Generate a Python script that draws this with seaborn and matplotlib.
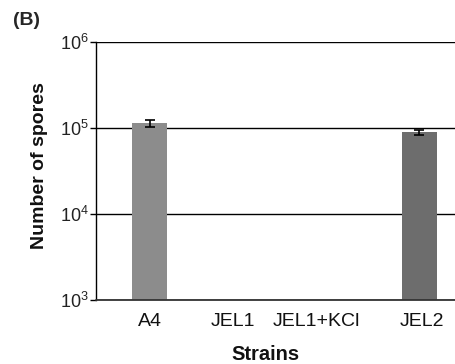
import numpy as np
import pandas as pd
import matplotlib
matplotlib.use("Agg")
import matplotlib.pyplot as plt
import matplotlib.transforms as mtransforms
import seaborn as sns

# values (JEL1 strains produced no spores)
strains = ["A4", "JEL1", "JEL1+KCl", "JEL2"]
spores = [1.13e5, np.nan, np.nan, 8.9e4]
spores_err = [1.1e4, np.nan, np.nan, 6.5e3]
bar_colors = ["#8c8c8c", "#8c8c8c", "#8c8c8c", "#6d6d6d"]

sns.set_style("white")
plt.rcParams["font.family"] = ["Liberation Sans", "DejaVu Sans"]
plt.rcParams["mathtext.fontset"] = "custom"
plt.rcParams["mathtext.rm"] = "Liberation Sans"

df = pd.DataFrame({"strain": strains, "spores": spores})

fig = plt.figure(figsize=(4.56, 3.64), dpi=100)
ax = fig.add_axes([0.2105, 0.1758, 0.7895, 0.7088])

sns.barplot(data=df, x="strain", y="spores", hue="strain", order=strains,
            palette=dict(zip(strains, bar_colors)), width=0.39,
            errorbar=None, legend=False, ax=ax, linewidth=0)

# error bars
xpos = np.arange(len(strains))
ax.errorbar(xpos, spores, yerr=spores_err, fmt="none", ecolor="black",
            elinewidth=1.2, capsize=3.5, capthick=1.2)

ax.set_yscale("log")
ax.set_ylim(1e3, 1e6)
ax.set_xlim(-0.6, 3.41)
ax.set_yticks([1e3, 1e4, 1e5, 1e6])
ax.set_yticklabels([r"$10^3$", r"$10^4$", r"$10^5$", r"$10^6$"])
ax.minorticks_off()
ax.yaxis.grid(True, color="black", linewidth=1.0)
ax.set_axisbelow(True)
ax.axhline(1e3, color="#333333", linewidth=1.3, clip_on=False, zorder=3)

for s in ["top", "right", "bottom"]:
    ax.spines[s].set_visible(False)
ax.spines["left"].set_color("black")
ax.spines["left"].set_linewidth(1.0)

ax.tick_params(axis="y", left=True, length=4, width=1.0, color="black",
               labelsize=13, labelcolor="#222222", pad=1)
ax.tick_params(axis="x", bottom=False, labelsize=14, labelcolor="#111111", pad=6)

# the middle labels sit a bit left of their slots in the original
for lab, dx in zip(ax.get_xticklabels(), [0, -7, -13, 3]):
    lab.set_transform(lab.get_transform() +
                      mtransforms.ScaledTranslation(dx / 100, 0, fig.dpi_scale_trans))

ax.set_xlabel("Strains", fontsize=14.5, fontweight="bold", color="#111111")
ax.xaxis.set_label_coords(0.472, -0.175)
ax.xaxis.label.set_va("top")
ax.set_ylabel("Number of spores", fontsize=14, fontweight="bold",
              color="#111111")
ax.yaxis.set_label_coords(-0.134, 0.52)

fig.text(0.028, 0.968, "(B)", fontsize=14, fontweight="bold", va="top")

fig.savefig("out.png", dpi=100)
